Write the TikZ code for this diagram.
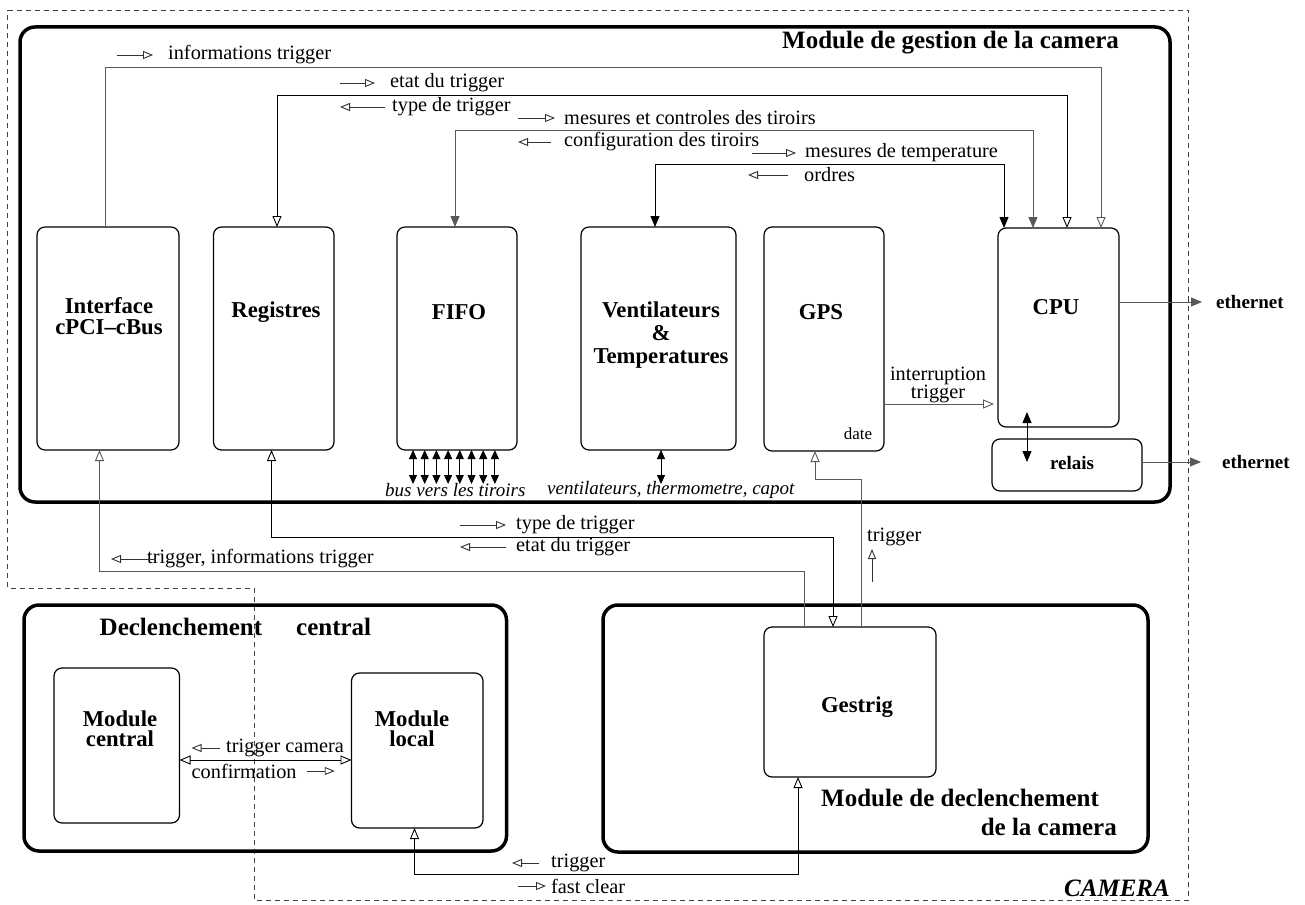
\documentclass[tikz,border=0pt]{standalone}
\usepackage{fontspec}
\setmainfont{Liberation Serif}
\usetikzlibrary{arrows.meta,calc}
\tikzset{
  OpenT/.tip={Triangle[open,length=11pt,width=9pt]},
  FillT/.tip={Triangle[length=11pt,width=9pt]},
  BusT/.tip={Triangle[length=9pt,width=8pt]},
  SmallT/.tip={Triangle[open,length=10pt,width=8pt]},
  blk/.style={draw, line width=1.2pt, rounded corners=8pt, inner sep=0pt, outer sep=0pt, anchor=north west},
  bigbox/.style={draw, line width=3.5pt, rounded corners=15pt, inner sep=0pt, outer sep=0pt, anchor=north west},
  conn/.style={line width=0.9pt, black},
  gconn/.style={line width=0.9pt, black!65},
  sarrow/.style={line width=0.9pt, black!80, -SmallT},
  lab/.style={font=\fontsize{20.3}{22}\selectfont, inner sep=0pt, anchor=west},
  ilab/.style={font=\fontsize{19}{20}\selectfont\itshape, inner sep=0pt, anchor=west},
  elab/.style={font=\fontsize{19}{20}\selectfont\bfseries, inner sep=0pt, anchor=west},
  blab/.style={font=\fontsize{22.7}{21}\selectfont\bfseries, inner sep=0pt, align=center},
  ttl/.style={font=\fontsize{25}{27}\selectfont\bfseries, inner sep=0pt, anchor=west},
  campath/.style={line width=0.9pt, black!75, dash pattern=on 5pt off 4pt},
}
\begin{document}
\begin{tikzpicture}[x=1pt,y=-1pt]
\fill[white] (0,0) rectangle (1305,904);
\useasboundingbox (0,0) rectangle (1305,904);

% camera boundary
\draw[campath] (7.5,10) -- (1188,10) -- (1188,900) -- (254,900) -- (254,588) -- (7.5,588) -- cycle;

% big modules
\node[bigbox, minimum width=1150, minimum height=475] (gestion) at (20,27) {};
\node[bigbox, minimum width=482.5, minimum height=246] (dcentral) at (24,605) {};
\node[bigbox, minimum width=545, minimum height=247] (dcam) at (603,605) {};

% inner blocks
\node[blk, minimum width=142, minimum height=223] (iface) at (37,227) {};
\node[blk, minimum width=120.5, minimum height=223] (reg) at (213.5,227) {};
\node[blk, minimum width=120, minimum height=223] (fifo) at (397,227) {};
\node[blk, minimum width=155, minimum height=223] (vent) at (581,227) {};
\node[blk, minimum width=120, minimum height=224] (gps) at (764,227) {};
\node[blk, minimum width=121, minimum height=199] (cpu) at (998,228) {};
\node[blk, minimum width=150, minimum height=52] (relais) at (992,439) {};
\node[blk, minimum width=125.5, minimum height=155] (mc) at (54,668) {};
\node[blk, minimum width=131.5, minimum height=155] (ml) at (351.5,673) {};
\node[blk, minimum width=172, minimum height=150] (gest) at (764,627) {};

% block labels
\node[blab] (ifaceL) at (109,316) {Interface\\cPCI\textendash cBus};
\node[blab] (regL) at (276,312) {Registres};
\node[blab] (fifoL) at (459,312) {FIFO};
\node[blab, font=\fontsize{22.7}{23}\selectfont\bfseries] (ventL) at (661,335) {Ventilateurs\\\&\\Temperatures};
\node[blab] (gpsL) at (821,312) {GPS};
\node[blab] (cpuL) at (1056,307) {CPU};
\node[font=\fontsize{17}{18}\selectfont, inner sep=0pt] (dateL) at (858,434) {date};
\node[font=\fontsize{19}{20}\selectfont\bfseries, inner sep=0pt] (relaisL) at (1072,463) {relais};
\node[blab, font=\fontsize{22.7}{20}\selectfont\bfseries] (mcL) at (120,729) {Module\\central};
\node[blab, font=\fontsize{22.7}{20}\selectfont\bfseries] (mlL) at (412,729) {Module\\local};
\node[blab] (gestL) at (857,707) {Gestrig};

% titles
\node[ttl] (t1) at (782,43) {Module de gestion de la camera};
\node[ttl] (t2a) at (99.5,627) {Declenchement};
\node[ttl] (t2b) at (296,627) {central};
\node[ttl] (t3a) at (821,798) {Module de declenchement};
\node[ttl, anchor=east] (t3b) at (1117,827) {de la camera};
\node[ttl, anchor=east, font=\fontsize{25}{27}\selectfont\bfseries\itshape] (cam) at (1170,888) {CAMERA};

% connector labels
\node[lab] (l1) at (168,55) {informations trigger};
\node[lab] (l2) at (390,83) {etat du trigger};
\node[lab] (l3) at (392,107) {type de trigger};
\node[lab] (l4) at (564,118) {mesures et controles des tiroirs};
\node[lab] (l5) at (564,142) {configuration des tiroirs};
\node[lab] (l6) at (805,153) {mesures de temperature};
\node[lab] (l7) at (804,175) {ordres};
\node[lab] (l8) at (516,525) {type de trigger};
\node[lab] (l9) at (516,547) {etat du trigger};
\node[lab] (l10) at (147,559) {trigger, informations trigger};
\node[lab] (l11) at (867,537) {trigger};
\node[lab] (l12) at (226,748) {trigger camera};
\node[lab] (l13) at (191.5,771) {confirmation};
\node[lab] (l14) at (551,863) {trigger};
\node[lab] (l15) at (551,886) {fast clear};
\node[lab, align=center, anchor=center, font=\fontsize{20.3}{16}\selectfont] (l16) at (938,385) {interruption\\trigger};
\node[ilab] (busL) at (385,490) {bus vers les tiroirs};
\node[ilab] (ventB) at (547,490) {ventilateurs, thermometre, capot};
\node[elab] (eth1) at (1216,302) {ethernet};
\node[elab] (eth2) at (1222,462) {ethernet};

% small direction arrows
\draw[sarrow] ([xshift=-51]l1.west) -- ([xshift=-15]l1.west);
\draw[sarrow] ([xshift=-50]l2.west) -- ([xshift=-15]l2.west);
\draw[sarrow] ([xshift=-7]l3.west) -- ([xshift=-52]l3.west);
\draw[sarrow] ([xshift=-46]l4.west) -- ([xshift=-9]l4.west);
\draw[sarrow] ([xshift=-13]l5.west) -- ([xshift=-46]l5.west);
\draw[sarrow] ([xshift=-53]l6.west) -- ([xshift=-9]l6.west);
\draw[sarrow] ([xshift=-16]l7.west) -- ([xshift=-56]l7.west);
\draw[sarrow] ([xshift=-56]l8.west) -- ([xshift=-10]l8.west);
\draw[sarrow] ([xshift=-10]l9.west) -- ([xshift=-56]l9.west);
\draw[sarrow] ([xshift=9]l10.west) -- ([xshift=-36]l10.west);
\draw[sarrow] ([xshift=-6]l12.west) -- ([xshift=-34.5]l12.west);
\draw[sarrow] ([xshift=10]l13.east) -- ([xshift=38]l13.east);
\draw[sarrow] ([xshift=-12]l14.west) -- ([xshift=-39]l14.west);
\draw[sarrow] ([xshift=-33]l15.west) -- ([xshift=-5]l15.west);
\coordinate (tu1) at (872,582);
\coordinate (tu2) at (872,549);
\draw[sarrow] (tu1) -- (tu2);

% level coordinates
\coordinate (yA) at (0,67);
\coordinate (yB) at (0,95);
\coordinate (yC) at (0,130);
\coordinate (yD) at (0,164);
\coordinate (yE) at (0,404);
\coordinate (yF) at (0,537);
\coordinate (yG) at (0,571);
\coordinate (yH) at (0,479);
\coordinate (yI) at (0,874);
\coordinate (yJ) at (0,760);
\coordinate (yK) at (0,484);

% top buses to CPU
\coordinate (p1) at ([xshift=-3]iface.north);
\coordinate (q1) at ([xshift=42.5]cpu.north);
\draw[gconn,-OpenT] (p1) -- (p1 |- yA) -- (q1 |- yA) -- (q1);
\coordinate (p2) at ([xshift=3.25]reg.north);
\coordinate (q2) at ([xshift=8.5]cpu.north);
\draw[conn,OpenT-OpenT] (p2) -- (p2 |- yB) -- (q2 |- yB) -- (q2);
\coordinate (p3) at ([xshift=-2]fifo.north);
\coordinate (q3) at ([xshift=-25.5]cpu.north);
\draw[gconn,FillT-FillT] (p3) -- (p3 |- yC) -- (q3 |- yC) -- (q3);
\coordinate (p4) at ([xshift=-3.5]vent.north);
\coordinate (q4) at ([xshift=-54.5]cpu.north);
\draw[conn,FillT-FillT] (p4) -- (p4 |- yD) -- (q4 |- yD) -- (q4);

% GPS -> CPU
\draw[gconn,-OpenT,shorten >=4pt] (gps.east |- yE) -- (cpu.west |- yE);

% CPU <-> relais
\coordinate (cr1) at (1027,412);
\coordinate (cr2) at (1027,462);
\draw[conn,FillT-FillT] (cr1) -- (cr2);

% ethernet
\draw[gconn,-FillT] (cpu.east |- eth1.west) -- ([xshift=-14]eth1.west);
\draw[gconn,-FillT] (relais.east |- eth2.west) -- ([xshift=-21]eth2.west);

% FIFO bus
\foreach \i in {0,...,7} {
  \coordinate (b\i) at ($(fifo.south)+(-44+\i*11.7,0)$);
  \draw[conn,BusT-BusT] (b\i) -- (b\i |- yK);
}
\coordinate (v5) at ([xshift=2.5]vent.south);
\draw[conn,BusT-BusT] (v5) -- (v5 |- yK);

% Gestrig links
\coordinate (p11) at ([xshift=-8.5]iface.south);
\coordinate (q11) at ([xshift=-46]gest.north);
\draw[gconn,-OpenT] (q11) -- (q11 |- yG) -- (p11 |- yG) -- (p11);
\coordinate (p12) at ([xshift=-2.25]reg.south);
\coordinate (q12) at ([xshift=-17]gest.north);
\draw[conn,OpenT-OpenT] (p12) -- (p12 |- yF) -- (q12 |- yF) -- (q12);
\coordinate (p13) at ([xshift=-9]gps.south);
\coordinate (q13) at ([xshift=11]gest.north);
\draw[gconn,-OpenT] (q13) -- (q13 |- yH) -- (p13 |- yH) -- (p13);
\coordinate (p14) at ([xshift=-2.75]ml.south);
\coordinate (q14) at ([xshift=-52]gest.south);
\draw[conn,OpenT-OpenT] (q14) -- (q14 |- yI) -- (p14 |- yI) -- (p14);

% central <-> local
\draw[conn,OpenT-OpenT] (mc.east |- yJ) -- (ml.west |- yJ);
\end{tikzpicture}
\end{document}
